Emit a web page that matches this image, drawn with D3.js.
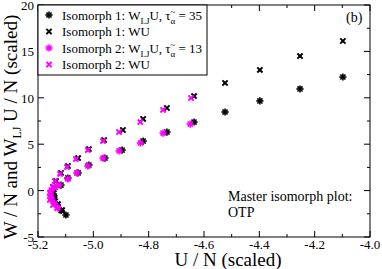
<!DOCTYPE html>
<html lang="en">
<head>
<meta charset="UTF-8">
<title>Master isomorph plot</title>
<script src="https://d3js.org/d3.v7.min.js"></script>
<style>
  body { margin: 0; background: #fff; }
  text { font-family: "Liberation Serif", "Times New Roman", serif; fill: #000; }
</style>
</head>
<body>
<script>
// Isomorph 1 (black): W_LJ U (asterisk) and W U (x)
const iso1LjU = [-5.099, -5.116, -5.130, -5.140, -5.145, -5.142, -5.117, -5.092, -5.055, -5.016, -4.958, -4.896, -4.820, -4.734, -4.636, -4.524, -4.398, -4.253, -4.098];
const iso1LjW = [-2.63, -2.15, -1.55, -0.95, -0.35, 0.15, 0.60, 1.36, 1.90, 2.76, 3.51, 4.37, 5.34, 6.31, 7.39, 8.47, 9.66, 10.95, 12.24];
const iso1WuU = [-5.113, -5.128, -5.140, -5.147, -5.146, -5.135, -5.117, -5.092, -5.055, -5.016, -4.961, -4.893, -4.820, -4.734, -4.636, -4.524, -4.398, -4.253, -4.098];
const iso1WuW = [-2.10, -1.45, -0.75, -0.15, 0.39, 1.03, 1.90, 2.65, 3.51, 4.48, 5.45, 6.53, 7.72, 8.90, 10.19, 11.60, 13.00, 14.50, 16.12];
// Isomorph 2 (magenta)
const iso2LjU = [-5.128, -5.140, -5.150, -5.155, -5.152, -5.140, -5.124, -5.092, -5.060, -5.020, -4.965, -4.907, -4.830, -4.748, -4.650];
const iso2LjW = [-1.85, -1.40, -0.90, -0.40, 0.05, 0.35, 0.60, 1.25, 1.90, 2.65, 3.50, 4.27, 5.13, 6.20, 7.17];
const iso2WuU = [-5.131, -5.146, -5.157, -5.157, -5.146, -5.139, -5.120, -5.095, -5.063, -5.020, -4.965, -4.907, -4.830, -4.748, -4.647];
const iso2WuW = [-1.90, -1.55, -1.00, -0.26, 0.39, 1.03, 1.80, 2.54, 3.40, 4.37, 5.34, 6.31, 7.39, 8.69, 9.98];

const xTicks = [-5.2, -5.0, -4.8, -4.6, -4.4, -4.2, -4.0];
const xMinor = [-5.1, -4.9, -4.7, -4.5, -4.3, -4.1];
const yTicks = [-5, 0, 5, 10, 15, 20];
const yMinor = [-2.5, 2.5, 7.5, 12.5, 17.5];

const W = 382, H = 269;
const m = {left: 38, right: 12, top: 5, bottom: 32};
const pw = W - m.left - m.right, ph = H - m.top - m.bottom;

const svg = d3.select("body").append("svg").attr("width", W).attr("height", H);
const g = svg.append("g").attr("transform", `translate(${m.left},${m.top})`);

const x = d3.scaleLinear().domain([-5.2, -4.0]).range([0, pw]);
const y = d3.scaleLinear().domain([-5, 20]).range([ph, 0]);

// frame
g.append("rect").attr("width", pw).attr("height", ph)
  .attr("fill", "none").attr("stroke", "#000").attr("stroke-width", 1);

// ticks on all four sides, pointing in
function ticks(vals, len) {
  vals.forEach(v => {
    g.append("line").attr("x1", x(v)).attr("x2", x(v)).attr("y1", ph).attr("y2", ph - len).attr("stroke", "#000");
    g.append("line").attr("x1", x(v)).attr("x2", x(v)).attr("y1", 0).attr("y2", len).attr("stroke", "#000");
  });
}
function yticks(vals, len) {
  vals.forEach(v => {
    g.append("line").attr("x1", 0).attr("x2", len).attr("y1", y(v)).attr("y2", y(v)).attr("stroke", "#000");
    g.append("line").attr("x1", pw).attr("x2", pw - len).attr("y1", y(v)).attr("y2", y(v)).attr("stroke", "#000");
  });
}
ticks(xTicks, 6); ticks(xMinor, 3);
yticks(yTicks, 6); yticks(yMinor, 3);

// tick labels
g.selectAll(".xl").data(xTicks).enter().append("text")
  .attr("x", d => x(d)).attr("y", ph + 12).attr("text-anchor", "middle")
  .attr("font-size", 13).text(d => d3.format(".1f")(d).replace("−", "-"));
g.selectAll(".yl").data(yTicks).enter().append("text")
  .attr("x", -4).attr("y", d => y(d) + 5).attr("text-anchor", "end")
  .attr("font-size", 13).text(d => String(d).replace("−", "-"));

// axis titles
svg.append("text").attr("x", 228).attr("y", 266).attr("text-anchor", "middle")
  .attr("font-size", 19).text("U / N (scaled)");
const yt = svg.append("text").attr("transform", "translate(17,127) rotate(-90)")
  .attr("text-anchor", "middle").attr("font-size", 19);
yt.append("tspan").text("W / N and W");
yt.append("tspan").attr("font-size", 12).attr("dy", 4).text("LJ");
yt.append("tspan").attr("dy", -4).text(" U / N (scaled)");

// markers
function star(sel, r) {
  const d = r * Math.SQRT1_2;
  sel.append("line").attr("x1", -r).attr("x2", r).attr("y1", 0).attr("y2", 0);
  sel.append("line").attr("x1", 0).attr("x2", 0).attr("y1", -r).attr("y2", r);
  sel.append("line").attr("x1", -d).attr("x2", d).attr("y1", -d).attr("y2", d);
  sel.append("line").attr("x1", -d).attr("x2", d).attr("y1", d).attr("y2", -d);
}
function cross(sel, r) {
  sel.append("line").attr("x1", -r).attr("x2", r).attr("y1", -r).attr("y2", r);
  sel.append("line").attr("x1", -r).attr("x2", r).attr("y1", r).attr("y2", -r);
}
function series(us, ws, color, kind) {
  const pts = us.map((u, i) => [u, ws[i]]);
  const s = g.append("g").selectAll("g").data(pts).enter().append("g")
    .attr("transform", d => `translate(${x(d[0])},${y(d[1])})`)
    .attr("stroke", color);
  if (kind === "star") { s.attr("stroke-width", 1.6); star(s, 3.6); }
  else { s.attr("stroke-width", 2); cross(s, 2.6); }
}
series(iso1LjU, iso1LjW, "#000", "star");
series(iso1WuU, iso1WuW, "#000", "cross");
series(iso2LjU, iso2LjW, "#ff00ff", "star");
series(iso2WuU, iso2WuW, "#ff00ff", "cross");

// legend
const lg = g.append("g");
lg.append("rect").attr("x", 0).attr("y", 0).attr("width", 169).attr("height", 70)
  .attr("fill", "#fff").attr("stroke", "#000");
const legendItems = [
  {color: "#000", kind: "star", label: ["Isomorph 1: W", "LJ", "U, τ", "35"]},
  {color: "#000", kind: "cross", label: ["Isomorph 1: WU"]},
  {color: "#ff00ff", kind: "star", label: ["Isomorph 2: W", "LJ", "U, τ", "13"]},
  {color: "#ff00ff", kind: "cross", label: ["Isomorph 2: WU"]}
];
legendItems.forEach((it, i) => {
  const yy = 10 + i * 16.5;
  const mk = lg.append("g").attr("transform", `translate(11,${yy})`).attr("stroke", it.color);
  if (it.kind === "star") { mk.attr("stroke-width", 1.6); star(mk, 3.6); }
  else { mk.attr("stroke-width", 2); cross(mk, 2.6); }
  const t = lg.append("text").attr("x", 24).attr("y", yy + 4.5).attr("font-size", 13);
  if (it.label.length === 1) { t.text(it.label[0]); return; }
  t.append("tspan").text(it.label[0]);
  t.append("tspan").attr("font-size", 9).attr("dy", 4).text(it.label[1]);
  t.append("tspan").attr("dy", -4).text(it.label[2]);
  t.append("tspan").attr("font-size", 9).attr("dy", -5).text("~");
  t.append("tspan").attr("font-size", 9).attr("dy", 9).attr("dx", -5).text("α");
  t.append("tspan").attr("dy", -4).text(" = " + it.label[3]);
});

// annotations
g.append("text").attr("x", 308).attr("y", 17).attr("font-size", 14).text("(b)");
g.append("text").attr("x", 190).attr("y", 196).attr("font-size", 14).text("Master isomorph plot:");
g.append("text").attr("x", 190).attr("y", 212).attr("font-size", 14).text("OTP");
</script>
</body>
</html>
